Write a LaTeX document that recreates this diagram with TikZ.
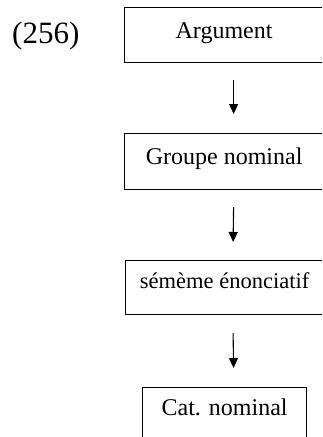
\documentclass[tikz,border=0pt]{standalone}
\usepackage{fontspec}
\setmainfont{Liberation Serif}
\usetikzlibrary{arrows.meta}
\begin{document}
\begin{tikzpicture}[x=1pt,y=1pt,
  box/.style={draw, line width=1.2pt, inner sep=0pt, anchor=north west,
    font=\fontsize{24}{28}\selectfont},
  arr/.style={line width=1.1pt, -{Triangle[length=10pt,width=9pt]}},
  lab/.style={inner sep=0pt, anchor=base west, font=\fontsize{31}{34}\selectfont}]
\useasboundingbox (0,0) rectangle (322,-437);
\clip (0,0) rectangle (322,-437);
\node[lab] (num) at (12,-43) {(256)};
\node[box, minimum width=199pt, text height=31pt, text depth=24pt] (b1) at (124,-7) {Argument};
\node[box, minimum width=199pt, text height=31pt, text depth=25pt] (b2) at (124,-133) {Groupe nominal};
\node[box, minimum width=198pt, text height=28pt, text depth=26pt, font=\fontsize{22.5}{26}\selectfont] (b3) at (125,-260) {sémème énonciatif};
\node[box, minimum width=164pt, text height=28pt, text depth=40pt] (b4) at (142,-387) {Cat. nominal};
\draw[arr] ([xshift=9.5pt,yshift=-17pt]b1.south) -- ([xshift=9.5pt,yshift=19pt]b2.north);
\draw[arr] ([xshift=9.5pt,yshift=-17pt]b2.south) -- ([xshift=8.5pt,yshift=18pt]b3.north);
\draw[arr] ([xshift=8.5pt,yshift=-18pt]b3.south) -- ([xshift=9pt,yshift=19pt]b4.north);
\end{tikzpicture}
\end{document}
